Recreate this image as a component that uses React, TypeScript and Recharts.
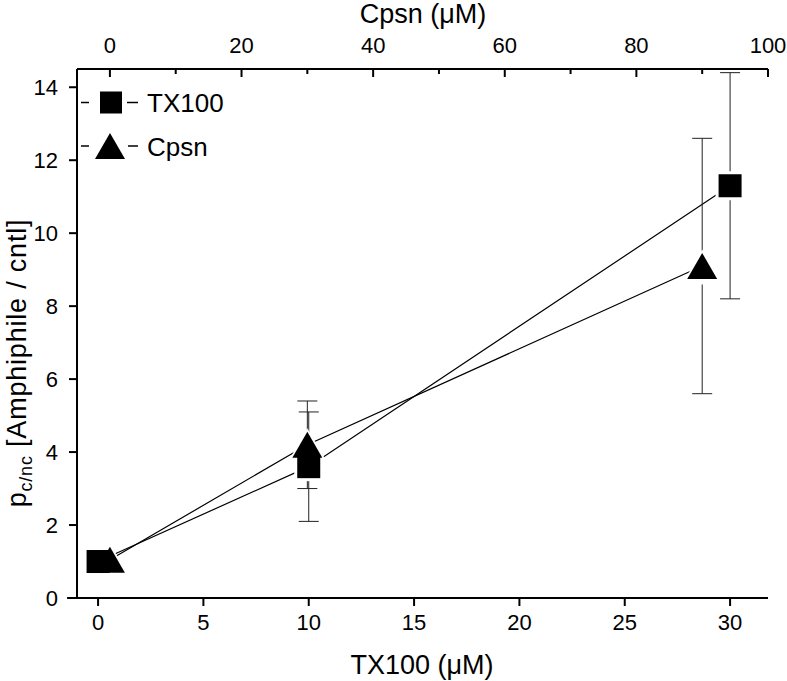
import { ComposedChart, Line, XAxis, YAxis, ErrorBar, Legend } from 'recharts';

const FONT = "'Liberation Sans', Arial, Helvetica, sans-serif";

// TX100 series (bottom axis)
const tx100Conc = [0, 10, 30];
const tx100Ratio = [1.0, 3.6, 11.3];
const tx100Err = [0, 1.5, 3.1];

// Cpsn series (top axis)
const cpsnConc = [0, 30, 90];
const cpsnRatio = [1.05, 4.2, 9.1];
const cpsnErr = [0, 1.2, 3.5];

const tx100Ticks = [0, 5, 10, 15, 20, 25, 30];
const cpsnTicks = [0, 10, 20, 30, 40, 50, 60, 70, 80, 90, 100];
const ratioTicks = [0, 2, 4, 6, 8, 10, 12, 14];

const tx100Data = tx100Conc.map((x, i) => ({ x, y: tx100Ratio[i], err: tx100Err[i] }));
const cpsnData = cpsnConc.map((x, i) => ({ x, y: cpsnRatio[i], err: cpsnErr[i] }));

const SQ = 23;
const TRI_W = 30;
const TRI_H = 26;

function triPoints(cx: number, cy: number, s: number) {
  const w = (TRI_W * s) / 2;
  const h = (TRI_H * s) / 2;
  return `${cx},${cy - h} ${cx + w},${cy + h} ${cx - w},${cy + h}`;
}

const squareHalo = (p: any) => (
  <rect key={`sh${p.index}`} x={p.cx - SQ / 2 - 3} y={p.cy - SQ / 2 - 3} width={SQ + 6} height={SQ + 6} fill="#fff" />
);
const squareDot = (p: any) => (
  <rect key={`sd${p.index}`} x={p.cx - SQ / 2} y={p.cy - SQ / 2} width={SQ} height={SQ} fill="#000" />
);
const triHalo = (p: any) => (
  <polygon key={`th${p.index}`} points={triPoints(p.cx, p.cy + 1, 1.35)} fill="#fff" />
);
const triDot = (p: any) => (
  <polygon key={`td${p.index}`} points={triPoints(p.cx, p.cy, 1)} fill="#000" />
);

const BottomTick = ({ x, y, payload }: any) => (
  <g>
    {payload.value === 0 && <line x1={x - 31} y1={y} x2={x} y2={y} stroke="#000" strokeWidth={2} />}
    <line x1={x} y1={y} x2={x} y2={y + 8} stroke="#000" strokeWidth={2} />
    <text x={x} y={y + 32} textAnchor="middle" fontSize={22} fontFamily={FONT} fill="#000">
      {payload.value}
    </text>
  </g>
);

const TopTick = ({ x, y, payload }: any) => {
  const major = payload.value % 20 === 0;
  return (
    <g>
      <line x1={x} y1={y} x2={x} y2={y + (major ? 8 : 5)} stroke="#000" strokeWidth={2} />
      {major && (
        <text x={x} y={y - 16} textAnchor="middle" fontSize={22} fontFamily={FONT} fill="#000">
          {payload.value}
        </text>
      )}
    </g>
  );
};

const LeftTick = ({ x, y, payload }: any) => (
  <g>
    <line x1={x - 8} y1={y} x2={x} y2={y} stroke="#000" strokeWidth={2} />
    <text x={x - 19} y={y + 8} textAnchor="end" fontSize={22} fontFamily={FONT} fill="#000">
      {payload.value}
    </text>
  </g>
);

const BottomTitle = () => (
  <text x={422} y={674} textAnchor="middle" fontSize={27} fontFamily={FONT} fill="#000">
    TX100 (μM)
  </text>
);

const TopTitle = () => (
  <text x={423} y={23} textAnchor="middle" fontSize={27} fontFamily={FONT} fill="#000">
    Cpsn (μM)
  </text>
);

const LeftTitle = () => (
  <text
    transform="translate(26, 363) rotate(-90)"
    textAnchor="middle"
    fontSize={27}
    letterSpacing={0.8}
    fontFamily={FONT}
    fill="#000"
  >
    p
    <tspan fontSize={18} dy={6}>c/nc</tspan>
    <tspan dy={-6}> [Amphiphile / cntl]</tspan>
  </text>
);

const LegendBox = () => (
  <svg width={220} height={100} style={{ display: 'block' }}>
    <line x1={11} y1={22.5} x2={19} y2={22.5} stroke="#000" strokeWidth={1.5} />
    <rect x={41 - 11} y={22.5 - 11} width={22} height={22} fill="#000" />
    <line x1={57} y1={22.5} x2={68} y2={22.5} stroke="#000" strokeWidth={1.5} />
    <text x={77} y={32} fontSize={26} fontFamily={FONT} fill="#000">TX100</text>
    <line x1={11} y1={66} x2={19} y2={66} stroke="#000" strokeWidth={1.5} />
    <polygon points={triPoints(40, 66, 1)} fill="#000" />
    <line x1={58} y1={66} x2={68} y2={66} stroke="#000" strokeWidth={1.5} />
    <text x={77} y={76} fontSize={26} fontFamily={FONT} fill="#000">Cpsn</text>
  </svg>
);

export default function App() {
  return (
    <div style={{ position: 'absolute', left: 0, top: 0, background: '#fff' }}>
      <ComposedChart width={787} height={681} margin={{ top: 19, right: 19, bottom: 13, left: 17 }}>
        <XAxis
          xAxisId="tx"
          type="number"
          dataKey="x"
          orientation="bottom"
          domain={[-1, 31.8]}
          allowDataOverflow
          ticks={tx100Ticks}
          height={70}
          tickSize={0}
          tickMargin={0}
          tickLine={false}
          tick={BottomTick}
          axisLine={{ stroke: '#000', strokeWidth: 2 }}
          label={<BottomTitle />}
        />
        <XAxis
          xAxisId="cpsn"
          type="number"
          dataKey="x"
          orientation="top"
          domain={[-5, 100]}
          allowDataOverflow
          ticks={cpsnTicks}
          interval={0}
          height={50}
          tickSize={0}
          tickMargin={0}
          tickLine={false}
          tick={TopTick}
          axisLine={{ stroke: '#000', strokeWidth: 2 }}
          label={<TopTitle />}
        />
        <YAxis
          type="number"
          domain={[0, 14.5]}
          allowDataOverflow
          ticks={ratioTicks}
          interval={0}
          width={60}
          tickSize={0}
          tickMargin={0}
          tickLine={false}
          tick={LeftTick}
          axisLine={{ stroke: '#000', strokeWidth: 2 }}
          label={<LeftTitle />}
        />
        <Legend
          verticalAlign="middle"
          align="center"
          layout="horizontal"
          content={() => <LegendBox />}
          wrapperStyle={{ position: 'absolute', left: 70, top: 80, width: 220, height: 100 }}
        />

        <Line xAxisId="tx" data={tx100Data} dataKey="y" stroke="#000" strokeWidth={1.2} dot={false} activeDot={false} isAnimationActive={false}>
          <ErrorBar dataKey="err" width={10} stroke="#222" strokeWidth={1} direction="y" isAnimationActive={false} />
        </Line>
        <Line xAxisId="cpsn" data={cpsnData} dataKey="y" stroke="#000" strokeWidth={1.2} dot={false} activeDot={false} isAnimationActive={false}>
          <ErrorBar dataKey="err" width={10} stroke="#222" strokeWidth={1} direction="y" isAnimationActive={false} />
        </Line>

        <Line xAxisId="tx" data={tx100Data} dataKey="y" stroke="none" dot={squareHalo} activeDot={false} isAnimationActive={false} />
        <Line xAxisId="cpsn" data={cpsnData} dataKey="y" stroke="none" dot={triHalo} activeDot={false} isAnimationActive={false} />
        <Line xAxisId="tx" data={tx100Data} dataKey="y" stroke="none" dot={squareDot} activeDot={false} isAnimationActive={false} />
        <Line xAxisId="cpsn" data={cpsnData} dataKey="y" stroke="none" dot={triDot} activeDot={false} isAnimationActive={false} />
      </ComposedChart>
    </div>
  );
}
